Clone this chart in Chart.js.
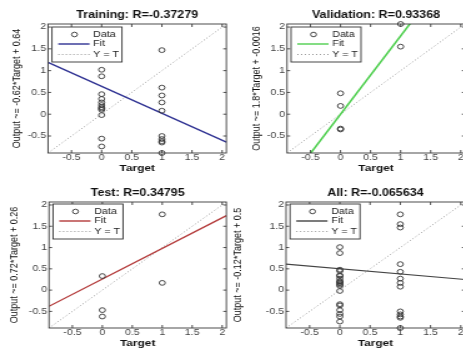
<!DOCTYPE html>
<html>
<head>
<meta charset="utf-8">
<script src="https://cdn.jsdelivr.net/npm/chart.js@4.4.0/dist/chart.umd.min.js"></script>
<style>
  html, body { margin: 0; padding: 0; background: #fff; width: 463px; height: 349px; overflow: hidden; }
  body { position: relative; }
  .panel { position: absolute; transform: scaleX(1.25); transform-origin: 0 0; }
  canvas { display: block; }
</style>
</head>
<body>
<div class="panel" style="left:0px;top:0px"><canvas id="trainChart" width="186" height="174" style="width:186px;height:174px"></canvas></div>
<div class="panel" style="left:231px;top:0px"><canvas id="valChart" width="196" height="174" style="width:196px;height:174px"></canvas></div>
<div class="panel" style="left:0px;top:174px"><canvas id="testChart" width="186" height="175" style="width:186px;height:175px"></canvas></div>
<div class="panel" style="left:231px;top:174px"><canvas id="allChart" width="196" height="175" style="width:196px;height:175px"></canvas></div>
<script>
// Axis limits and ticks (same for every panel)
const axisMin = -0.89;
const axisMax = 2.07;
const tickValues = [-0.5, 0, 0.5, 1, 1.5, 2];

// Training
const trainTargets = [0, 0, 0, 0, 0, 0, 0, 0, 0, 0, 0, 0, 1, 1, 1, 1, 1, 1, 1, 1, 1, 1];
const trainOutputs = [1.02, 0.87, 0.46, 0.35, 0.27, 0.21, 0.16, 0.13, 0.10, -0.02, -0.56, -0.74,
                      1.47, 0.61, 0.43, 0.27, 0.08, -0.50, -0.57, -0.62, -0.65, -0.89];
const trainFit = [1.19, -0.64];

// Validation
const valTargets = [0, 0, 0, 0, 1, 1];
const valOutputs = [0.48, 0.19, -0.33, -0.35, 2.07, 1.55];
const valFit = [-1.60, 3.72];

// Test
const testTargets = [0, 0, 0, 1, 1];
const testOutputs = [0.33, -0.47, -0.62, 1.78, 0.17];
const testFit = [-0.38, 1.75];

// All
const allTargets = [0, 0, 0, 0, 0, 0, 0, 0, 0, 0, 0, 0, 0, 0, 0, 0, 0, 0, 0,
                    1, 1, 1, 1, 1, 1, 1, 1, 1, 1, 1, 1, 1];
const allOutputs = [1.01, 0.87, 0.48, 0.45, 0.35, 0.33, 0.27, 0.21, 0.19, 0.16, 0.13, 0.10, -0.02, -0.33, -0.36, -0.47, -0.56, -0.62, -0.74,
                    1.78, 1.55, 1.47, 0.61, 0.43, 0.27, 0.17, 0.08, -0.50, -0.57, -0.62, -0.65, -0.89];
const allFit = [0.61, 0.25];

const FONT = "'Liberation Sans', Arial, sans-serif";
Chart.defaults.font.family = FONT;
Chart.defaults.color = '#333';

// box, inward ticks and legend, MATLAB style
const matlabFrame = {
  id: 'matlabFrame',
  afterDatasetsDraw(chart, args, opts) {
    const { ctx, chartArea: a, scales: { x, y } } = chart;
    ctx.save();
    ctx.strokeStyle = '#3a3a3a';
    ctx.lineWidth = 0.9;
    ctx.strokeRect(a.left, a.top, a.right - a.left, a.bottom - a.top);
    ctx.beginPath();
    tickValues.forEach(v => {
      const px = x.getPixelForValue(v);
      ctx.moveTo(px, a.bottom); ctx.lineTo(px, a.bottom - 3);
      ctx.moveTo(px, a.top); ctx.lineTo(px, a.top + 3);
      const py = y.getPixelForValue(v);
      ctx.moveTo(a.left, py); ctx.lineTo(a.left + 2.5, py);
      ctx.moveTo(a.right, py); ctx.lineTo(a.right - 2.5, py);
    });
    ctx.stroke();

    // legend
    const bx = a.left + 3.2, by = a.top + opts.dy, bw = 56, bh = 35;
    ctx.fillStyle = '#fff';
    ctx.fillRect(bx, by, bw, bh);
    ctx.strokeStyle = '#333';
    ctx.lineWidth = 0.9;
    ctx.strokeRect(bx, by, bw, bh);
    const rows = [by + 7.5, by + 17, by + 27.5];
    ctx.beginPath();
    ctx.arc(bx + 18, rows[0], 2.3, 0, Math.PI * 2);
    ctx.strokeStyle = '#333';
    ctx.stroke();
    ctx.beginPath();
    ctx.moveTo(bx + 5, rows[1]); ctx.lineTo(bx + 30, rows[1]);
    ctx.strokeStyle = opts.fitColor;
    ctx.lineWidth = 1.4;
    ctx.stroke();
    ctx.beginPath();
    ctx.setLineDash([1, 2]);
    ctx.moveTo(bx + 5, rows[2]); ctx.lineTo(bx + 30, rows[2]);
    ctx.strokeStyle = '#999';
    ctx.lineWidth = 1;
    ctx.stroke();
    ctx.setLineDash([]);
    ctx.fillStyle = '#222';
    ctx.font = '8.5px ' + FONT;
    ctx.textBaseline = 'middle';
    ctx.textAlign = 'left';
    ctx.fillText('Data', bx + 33, rows[0]);
    ctx.fillText('Fit', bx + 33, rows[1]);
    ctx.fillText('Y = T', bx + 33, rows[2]);
    ctx.restore();
  }
};

function makePanel(id, p) {
  const points = p.targets.map((t, i) => ({ x: t, y: p.outputs[i] }));
  return new Chart(document.getElementById(id), {
    type: 'scatter',
    data: {
      datasets: [
        {
          label: 'Data',
          data: points,
          pointStyle: 'circle',
          pointRadius: 2.4,
          borderWidth: 0.9,
          borderColor: '#333',
          backgroundColor: 'rgba(0,0,0,0)',
          clip: false
        },
        {
          label: 'Fit',
          data: [{ x: axisMin, y: p.fit[0] }, { x: axisMax, y: p.fit[1] }],
          showLine: true,
          borderColor: p.fitColor,
          borderWidth: p.fitWidth,
          pointRadius: 0
        },
        {
          label: 'Y = T',
          data: [{ x: axisMin, y: axisMin }, { x: axisMax, y: axisMax }],
          showLine: true,
          borderColor: '#999',
          borderDash: [1, 2],
          borderWidth: 1,
          pointRadius: 0
        }
      ]
    },
    options: {
      responsive: false,
      animation: false,
      layout: { padding: { left: 0, right: p.padRight, top: 0, bottom: 0 } },
      plugins: {
        legend: { display: false },
        tooltip: { enabled: false },
        title: {
          display: true,
          text: p.title,
          fullSize: false,
          color: '#111',
          font: { size: 10, weight: 'bold', lineHeight: 1.2 },
          padding: { top: p.titleTop, bottom: p.chartTop - p.titleTop - 12 }
        },
        matlabFrame: { fitColor: p.fitColor, dy: p.legendDy }
      },
      scales: {
        x: {
          type: 'linear',
          min: axisMin,
          max: axisMax,
          afterBuildTicks: s => { s.ticks = tickValues.map(v => ({ value: v })); },
          afterFit: s => { s.height = p.bottomH; },
          grid: { display: false, drawTicks: false },
          border: { display: false },
          ticks: { font: { size: 8.5 }, color: '#444', padding: 0, maxRotation: 0, autoSkip: false,
                   callback: v => String(v) },
          title: {
            display: true,
            text: 'Target',
            color: '#111',
            font: { size: 9.5, weight: 'bold', lineHeight: 1.2 },
            padding: { top: 0, bottom: p.xTitlePad }
          }
        },
        y: {
          type: 'linear',
          min: axisMin,
          max: axisMax,
          afterBuildTicks: s => { s.ticks = tickValues.map(v => ({ value: v })); },
          afterFit: s => { s.width = p.leftW; },
          grid: { display: false, drawTicks: false },
          border: { display: false },
          ticks: { font: { size: 8.5 }, color: '#444', padding: 1.5, autoSkip: false,
                   callback: v => String(v) },
          title: {
            display: true,
            text: p.yLabel,
            color: '#111',
            font: { size: 9, lineHeight: 1.2 },
            padding: { top: p.yTitlePad, bottom: 0 }
          }
        }
      }
    },
    plugins: [matlabFrame]
  });
}

makePanel('trainChart', {
  targets: trainTargets, outputs: trainOutputs, fit: trainFit,
  title: 'Training: R=-0.37279', yLabel: 'Output ~= -0.62*Target + 0.64',
  fitColor: '#2e3192', fitWidth: 1.3,
  leftW: 38.4, padRight: 3, chartTop: 24, titleTop: 9, bottomH: 21,
  xTitlePad: 0.3, yTitlePad: 8.2, legendDy: 3
});
makePanel('valChart', {
  targets: valTargets, outputs: valOutputs, fit: valFit,
  title: 'Validation: R=0.93368', yLabel: 'Output ~= 1.8*Target + -0.0016',
  fitColor: '#4fcf4f', fitWidth: 1.6,
  leftW: 44.8, padRight: 8.8, chartTop: 24, titleTop: 9, bottomH: 21,
  xTitlePad: 0.3, yTitlePad: 14.7, legendDy: 3
});
makePanel('testChart', {
  targets: testTargets, outputs: testOutputs, fit: testFit,
  title: 'Test: R=0.34795', yLabel: 'Output ~= 0.72*Target + 0.26',
  fitColor: '#b33a3a', fitWidth: 1.3,
  leftW: 39.2, padRight: 2.8, chartTop: 28, titleTop: 13, bottomH: 21,
  xTitlePad: 0, yTitlePad: 5.7, legendDy: 2
});
makePanel('allChart', {
  targets: allTargets, outputs: allOutputs, fit: allFit,
  title: 'All: R=-0.065634', yLabel: 'Output ~= -0.12*Target + 0.5',
  fitColor: '#444444', fitWidth: 1.1,
  leftW: 44, padRight: 8.8, chartTop: 28, titleTop: 13, bottomH: 21,
  xTitlePad: 0, yTitlePad: 0, legendDy: 2
});
</script>
</body>
</html>
